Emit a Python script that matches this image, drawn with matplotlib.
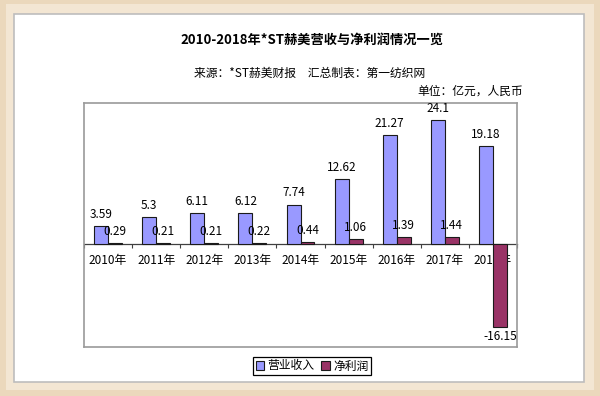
import numpy as np
import matplotlib.pyplot as plt
from matplotlib.patches import Rectangle

plt.rcParams['font.family'] = ['Noto Sans CJK SC', 'DejaVu Sans']

# data (亿元)
years = ['2010年', '2011年', '2012年', '2013年', '2014年', '2015年', '2016年', '2017年', '2018年']
revenue = [3.59, 5.3, 6.11, 6.12, 7.74, 12.62, 21.27, 24.1, 19.18]
profit = [0.29, 0.21, 0.21, 0.22, 0.44, 1.06, 1.39, 1.44, -16.15]
revenue_labels = ['3.59', '5.3', '6.11', '6.12', '7.74', '12.62', '21.27', '24.1', '19.18']
profit_labels = ['0.29', '0.21', '0.21', '0.22', '0.44', '1.06', '1.39', '1.44', '-16.15']

W, H = 600, 396
fig = plt.figure(figsize=(W / 100, H / 100), dpi=100)
fig.patch.set_facecolor('#EBD8BC')

# light inner band of the frame + white panel (behind the axes)
fig.patches.append(Rectangle((6 / W, 6 / H), 588 / W, 386 / H, transform=fig.transFigure,
                             facecolor='#F3E6D3', edgecolor='none', zorder=-2))
fig.patches.append(Rectangle((14 / W, 14 / H), 570 / W, 368 / H, transform=fig.transFigure,
                             facecolor='white', edgecolor='#BDBDBD', linewidth=1.2, zorder=-1))

ax = fig.add_axes([84 / W, 1 - 347 / H, 433 / W, 244 / H])
ax.set_facecolor('white')

x = np.arange(len(years))
w = 0.29
ax.bar(x - w / 2, revenue, w, color='#9999FF', edgecolor='#1a1a1a', linewidth=0.8, label='营业收入', zorder=2)
ax.bar(x + w / 2, profit, w, color='#993366', edgecolor='#1a1a1a', linewidth=0.8, label='净利润', zorder=2)

ymin, ymax = -20, 27.5
ax.set_ylim(ymin, ymax)
ax.set_xlim(-0.5, len(years) - 0.5)
ax.set_yticks([])
ax.set_xticks([])
for s in ax.spines.values():
    s.set_color('#9a9a9a')
    s.set_linewidth(1.2)

# category axis crossing at zero
zero = (0 - ymin) / (ymax - ymin)
sec = ax.secondary_xaxis(zero)
sec.set_xticks(x)
sec.set_xticklabels(years, fontsize=8.5)
sec.set_xticks(np.arange(len(years) + 1) - 0.5, minor=True)
sec.tick_params(axis='x', which='major', length=0, pad=7)
sec.tick_params(axis='x', which='minor', length=3, width=0.8, color='#404040')
sec.spines['bottom'].set_color('#404040')
sec.spines['bottom'].set_linewidth(0.9)

for i in range(len(years)):
    ax.text(x[i] - w / 2, revenue[i] + 1.0, revenue_labels[i], ha='center', va='bottom',
            fontsize=8.5, zorder=3)
    if profit[i] >= 0:
        ax.text(x[i] + w / 2, profit[i] + 1.0, profit_labels[i], ha='center', va='bottom',
                fontsize=8.5, zorder=3)
    else:
        ax.text(x[i] + w / 2, profit[i] - 0.5, profit_labels[i], ha='center', va='top',
                fontsize=8.5, zorder=3)

fig.text(312 / W, 1 - 40 / H, '2010-2018年*ST赫美营收与净利润情况一览', ha='center', va='center',
         fontsize=9.5, fontweight='bold')
fig.text(310 / W, 1 - 73 / H, '来源：*ST赫美财报　汇总制表：第一纺织网', ha='center', va='center',
         fontsize=8.5)
fig.text(523 / W, 1 - 91 / H, '单位：亿元，人民币', ha='right', va='center', fontsize=8.5)

leg = fig.legend(loc='center', bbox_to_anchor=(312 / W, 1 - 366 / H), ncol=2, fontsize=8.5,
                 handlelength=0.7, handleheight=0.7, handletextpad=0.3, columnspacing=0.6,
                 borderpad=0.25, fancybox=False, edgecolor='black', framealpha=1)
leg.get_frame().set_linewidth(0.9)

fig.savefig('out.png', dpi=100, facecolor=fig.get_facecolor())
